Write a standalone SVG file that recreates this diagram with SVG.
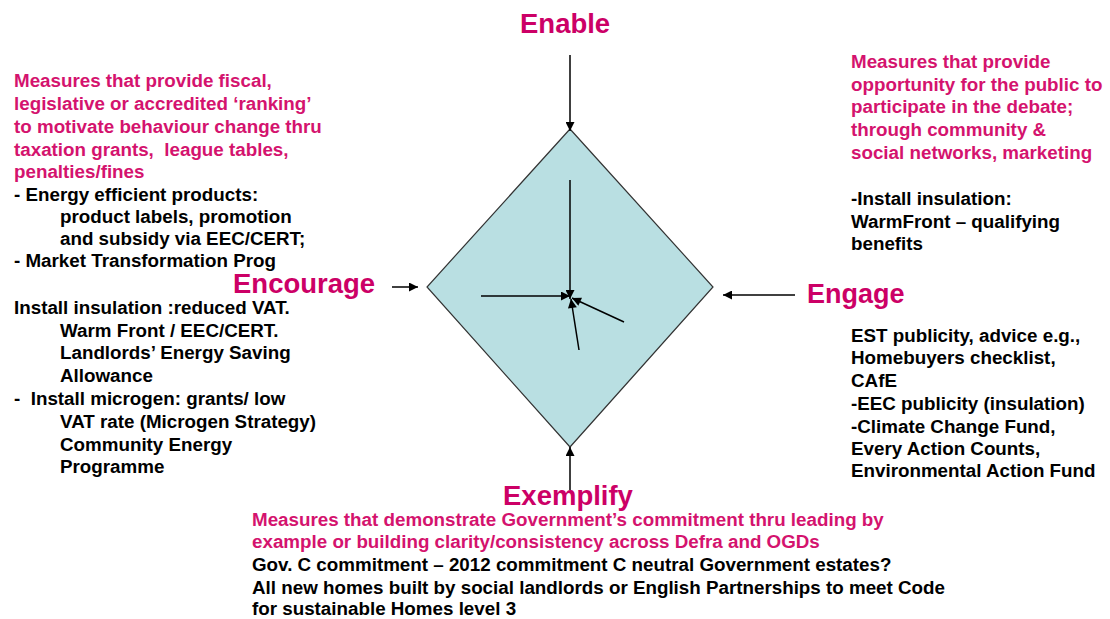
<svg xmlns="http://www.w3.org/2000/svg" width="1110" height="619" viewBox="0 0 1110 619">
<defs>
<marker id="ah" viewBox="0 0 10 10" refX="10" refY="5" markerUnits="userSpaceOnUse" markerWidth="10" markerHeight="9" orient="auto">
<path d="M0,0 L10,5 L0,10 z" fill="#000"/>
</marker>
<style>
text{font-family:"Liberation Sans",Arial,sans-serif;font-weight:bold;white-space:pre}
.h{font-size:27.5px;fill:#CC0066}
.p{font-size:18.8px;fill:#D4136E}
.b{font-size:18.8px;fill:#000}
.c{stroke:#000;stroke-width:1.5;fill:none;marker-end:url(#ah)}
</style>
</defs>
<rect width="1110" height="619" fill="#fff"/>

<g id="center-diamond">
<polygon points="570,129 713,287 570,447 427,287" fill="#B9DFE2" stroke="#333" stroke-width="1.2"/>
</g>

<g id="connectors">
<line class="c" x1="570" y1="55" x2="570" y2="131"/>
<line class="c" x1="392" y1="287" x2="418" y2="287"/>
<line class="c" x1="795" y1="295" x2="723" y2="295"/>
<line class="c" x1="570" y1="490" x2="570" y2="447"/>
<line class="c" x1="570" y1="180" x2="570" y2="299"/>
<line class="c" x1="481" y1="296" x2="570" y2="296"/>
<line class="c" x1="624" y1="322" x2="572" y2="298"/>
<line class="c" x1="579" y1="350" x2="571" y2="299"/>
</g>

<g id="enable">
<text class="h" x="520" y="33">Enable</text>
</g>

<g id="encourage">
<text class="h" x="233" y="293">Encourage</text>
</g>

<g id="engage">
<text class="h" x="807" y="303" style="font-size:27px">Engage</text>
</g>

<g id="exemplify">
<text class="h" x="503" y="505">Exemplify</text>
</g>

<g id="encourage-text">
<text class="p" x="14" y="87.3">Measures that provide fiscal,</text>
<text class="p" x="14" y="110">legislative or accredited ‘ranking’</text>
<text class="p" x="14" y="132.7">to motivate behaviour change thru</text>
<text class="p" x="14" y="155.5">taxation grants,  league tables,</text>
<text class="p" x="14" y="178.3">penalties/fines</text>
<text class="b" x="14" y="200.5">- Energy efficient products:</text>
<text class="b" x="60" y="222.7">product labels, promotion</text>
<text class="b" x="60" y="245">and subsidy via EEC/CERT;</text>
<text class="b" x="14" y="267.3">- Market Transformation Prog</text>
<text class="b" x="14" y="314.3">Install insulation :reduced VAT.</text>
<text class="b" x="60" y="336.7">Warm Front / EEC/CERT.</text>
<text class="b" x="60" y="359.3">Landlords’ Energy Saving</text>
<text class="b" x="60" y="382">Allowance</text>
<text class="b" x="14" y="405">-  Install microgen: grants/ low</text>
<text class="b" x="60" y="428">VAT rate (Microgen Strategy)</text>
<text class="b" x="60" y="450.7">Community Energy</text>
<text class="b" x="60" y="472.7">Programme</text>
</g>

<g id="enable-text">
<text class="p" x="851" y="68.3">Measures that provide</text>
<text class="p" x="851" y="90.7">opportunity for the public to</text>
<text class="p" x="851" y="113.3">participate in the debate;</text>
<text class="p" x="851" y="136">through community &amp;</text>
<text class="p" x="851" y="159.3">social networks, marketing</text>
<text class="b" x="851" y="205">-Install insulation:</text>
<text class="b" x="851" y="227.7">WarmFront – qualifying</text>
<text class="b" x="851" y="250">benefits</text>
</g>

<g id="engage-text">
<text class="b" x="851" y="341.7">EST publicity, advice e.g.,</text>
<text class="b" x="851" y="364.3">Homebuyers checklist,</text>
<text class="b" x="851" y="386.7">CAfE</text>
<text class="b" x="851" y="410">-EEC publicity (insulation)</text>
<text class="b" x="851" y="432.7">-Climate Change Fund,</text>
<text class="b" x="851" y="455">Every Action Counts,</text>
<text class="b" x="851" y="477.3">Environmental Action Fund</text>
</g>

<g id="exemplify-text">
<text class="p" x="252" y="526">Measures that demonstrate Government’s commitment thru leading by</text>
<text class="p" x="252" y="548">example or building clarity/consistency across Defra and OGDs</text>
<text class="b" x="252" y="570.5">Gov. C commitment – 2012 commitment C neutral Government estates?</text>
<text class="b" x="252" y="593.5">All new homes built by social landlords or English Partnerships to meet Code</text>
<text class="b" x="252" y="615">for sustainable Homes level 3</text>
</g>
</svg>
